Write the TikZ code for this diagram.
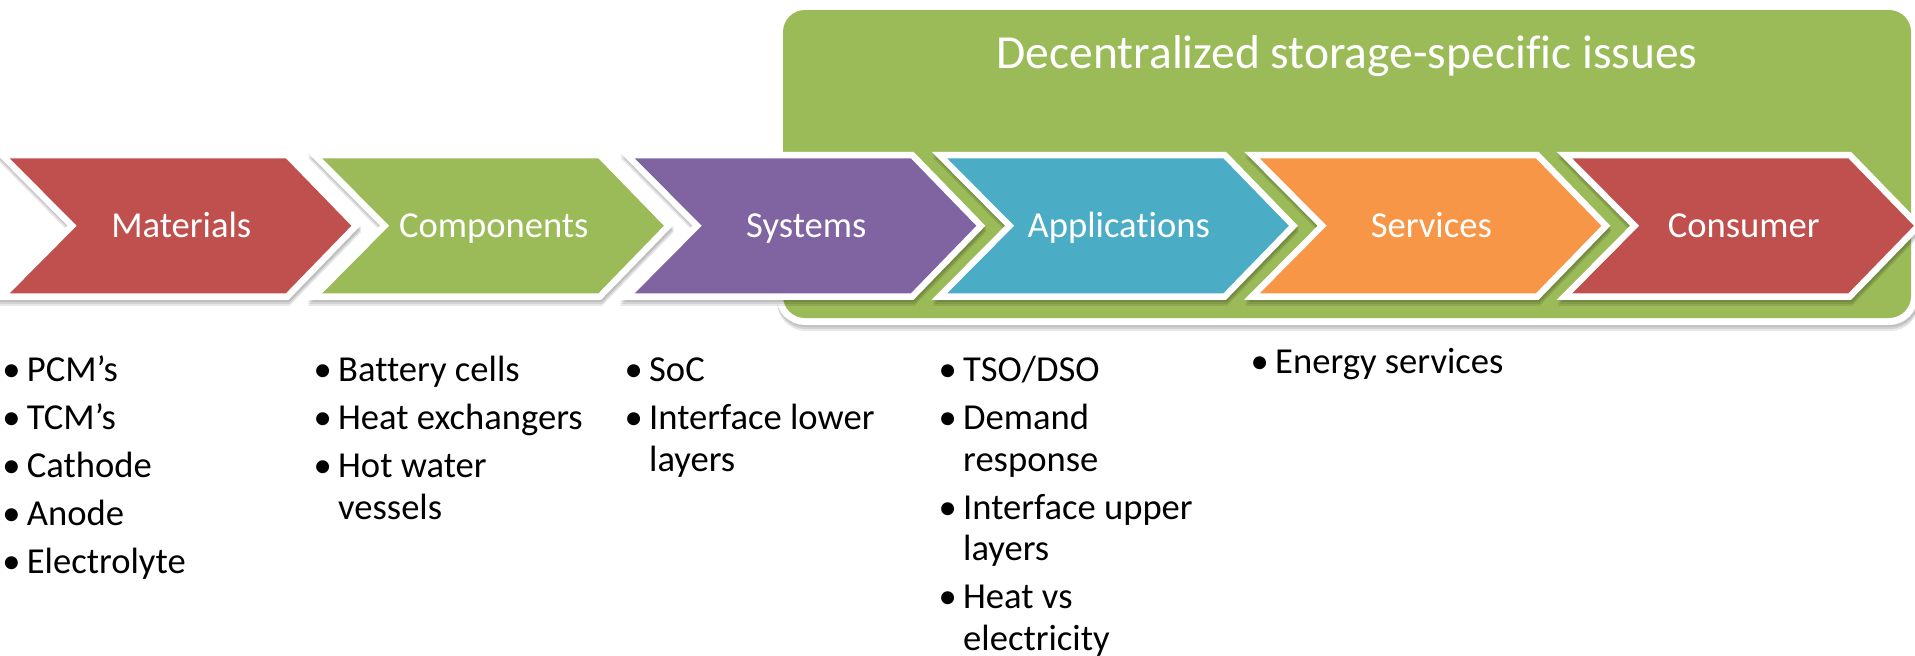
\documentclass[tikz,border=0pt]{standalone}
\usepackage{fontspec}
\setmainfont{Carlito}[Ligatures=NoCommon]
\definecolor{cred}{HTML}{C0504D}
\definecolor{cgreen}{HTML}{9BBB59}
\definecolor{cpurple}{HTML}{8064A2}
\definecolor{caqua}{HTML}{4BACC6}
\definecolor{corange}{HTML}{F79646}
\newcommand{\bul}{\makebox[24.5pt][l]{•}}
\newcommand{\ind}{\hspace*{24.5pt}}
\newcommand{\itm}[1]{\hbox{\bul #1}}
\newcommand{\cont}[1]{\hbox{\ind #1}}
\newcommand{\pgap}{\vskip 6.5pt}
\newcommand{\blist}[1]{\vtop{\baselineskip=41.5pt\lineskiplimit=-100pt\lineskip=0pt #1}}
\tikzset{
  chevlabel/.style={text=white, font=\fontsize{36.6}{44}\selectfont, inner sep=0pt, anchor=base},
  titlelabel/.style={text=white, font=\fontsize{47.5}{57}\selectfont, inner sep=0pt, anchor=base},
  bullist/.style={anchor=base west, inner sep=0pt, text=black, font=\fontsize{36.6}{41.5}\selectfont},
  whiteedge/.style={draw=white, line width=13pt, line join=miter},
  shadowlayer/.style={transparency group, opacity=0.09},
}
\begin{document}
\begin{tikzpicture}[x=1pt, y=-1pt]
\useasboundingbox (0,0) rectangle (1915,656);
\fill[white] (0,0) rectangle (1915,656);
% green box shadow
\foreach \s in {2,4,6}{
  \begin{scope}[shadowlayer, shift={(1,\s)}]
    \path[fill=black, draw=black, line width=14pt, rounded corners=22pt] (783,10) rectangle (1911,318);
  \end{scope}
}
\draw[white, line width=14pt, rounded corners=22pt] (783,10) rectangle (1911,318);
\fill[cgreen, rounded corners=22pt] (783,10) rectangle (1911,318);
\node[titlelabel] (title) at (1347,68) {Decentralized storage-specific issues};
% chevrons
\foreach \i/\col/\lab/\nm in {0/cred/Materials/mat, 1/cgreen/Components/comp, 2/cpurple/Systems/sys, 3/caqua/Applications/app, 4/corange/Services/serv, 5/cred/Consumer/cons}{
  \pgfmathsetmacro{\L}{9.8+312.5*\i}
  \foreach \s in {2,4,6}{
    \begin{scope}[shadowlayer, shift={(1,\s)}]
      \path[fill=black, draw=black, line width=13pt, line join=miter] (\L,158.3) -- ++(276,0) -- ++(65.5,67.5) -- ++(-65.5,67.5) -- ++(-276,0) -- ++(67,-67.5) -- cycle;
    \end{scope}
  }
  \draw[whiteedge] (\L,158.3) -- ++(276,0) -- ++(65.5,67.5) -- ++(-65.5,67.5) -- ++(-276,0) -- ++(67,-67.5) -- cycle;
  \fill[\col] (\L,158.3) -- ++(276,0) -- ++(65.5,67.5) -- ++(-65.5,67.5) -- ++(-276,0) -- ++(67,-67.5) -- cycle;
  \node[chevlabel] (\nm) at (\L+171.5,237.5) {\lab};
}
% bullet lists
\node[bullist] (l1) at (2.2,381.7) {\blist{\itm{PCM’s}\pgap\itm{TCM’s}\pgap\itm{Cathode}\pgap\itm{Anode}\pgap\itm{Electrolyte}}};
\node[bullist] (l2) at (313.5,381.7) {\blist{\itm{Battery cells}\pgap\itm{Heat exchangers}\pgap\itm{Hot water}\cont{vessels}}};
\node[bullist] (l3) at (624.5,381.7) {\blist{\itm{SoC}\pgap\itm{Interface lower}\cont{layers}}};
\node[bullist] (l4) at (938.5,381.7) {\blist{\itm{TSO/DSO}\pgap\itm{Demand}\cont{response}\pgap\itm{Interface upper}\cont{layers}\pgap\itm{Heat vs}\cont{electricity}}};
\node[bullist] (l5) at (1250.5,373) {\blist{\itm{Energy services}}};
\end{tikzpicture}
\end{document}
